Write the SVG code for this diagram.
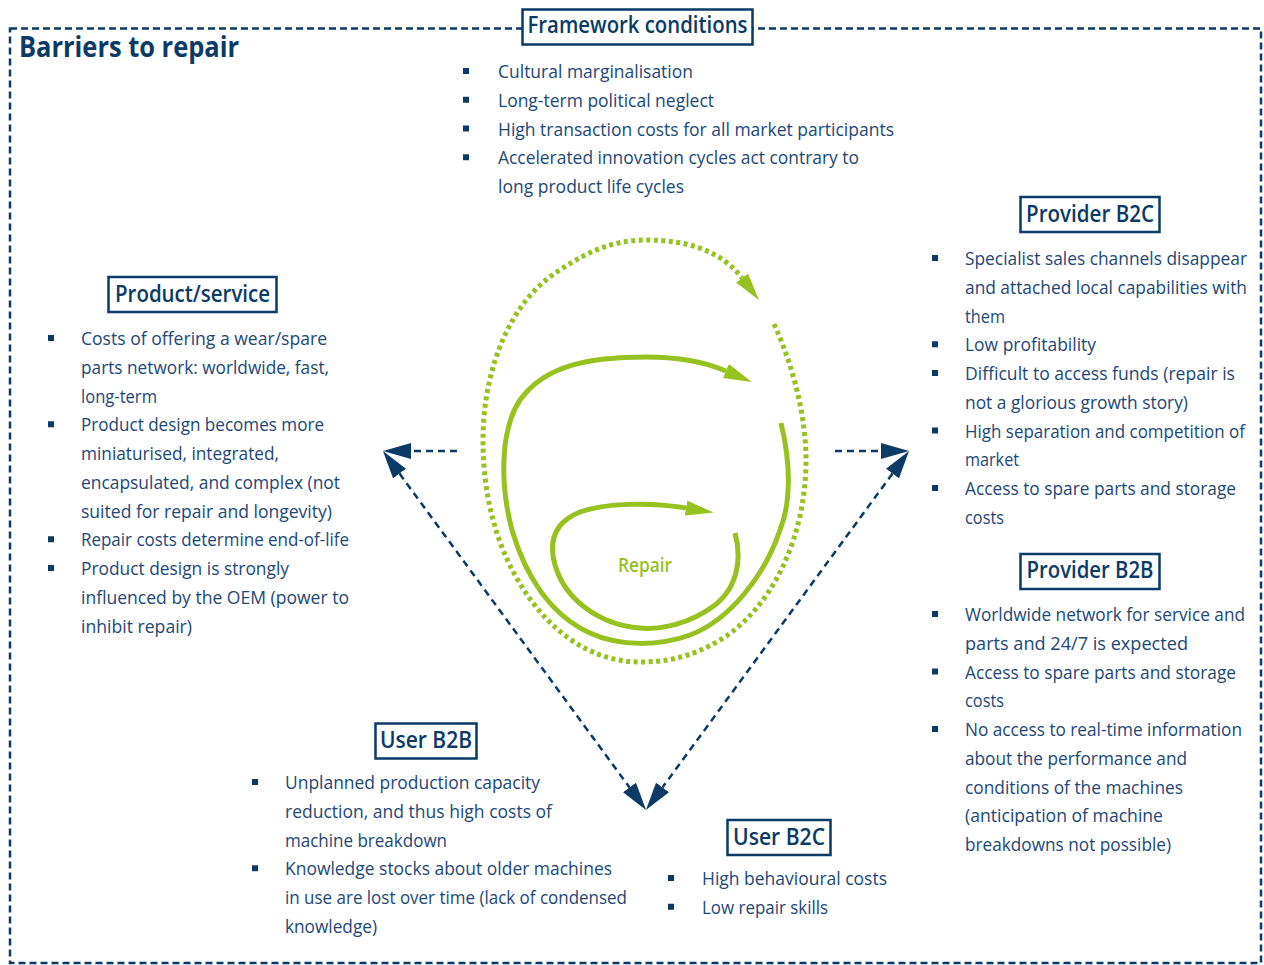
<svg xmlns="http://www.w3.org/2000/svg" width="1264" height="965" viewBox="0 0 1264 965">
<style>
.b{font-family:"Open Sans","Noto Sans","Liberation Sans",sans-serif;font-size:18.5px;fill:#1d4776}
.t{font-family:"Open Sans","Noto Sans","Liberation Sans",sans-serif;font-size:23px;font-weight:600;fill:#0b3a66;text-anchor:middle}
.box{fill:#fff;stroke:#0b3a66;stroke-width:2.5}
.bl{fill:#0b3a66}
.con{fill:none;stroke:#0b3a66;stroke-width:2.5;stroke-dasharray:7 5}
.g{fill:none;stroke:#97c11f;stroke-width:5}
.gd{fill:none;stroke:#97c11f;stroke-width:5;stroke-dasharray:4 3.5}
</style>
<defs>
<marker id="ab" markerUnits="userSpaceOnUse" viewBox="0 0 28 16" markerWidth="28" markerHeight="16" refX="0" refY="8" orient="auto-start-reverse"><path d="M0,0 L28,8 L0,16 z" fill="#0b3a66"/></marker>
<marker id="ga" markerUnits="userSpaceOnUse" viewBox="0 0 28 15" markerWidth="28" markerHeight="15" refX="0" refY="7.5" orient="auto"><path d="M0,0 L28,7.5 L0,15 z" fill="#97c11f"/></marker>
</defs>
<rect x="10" y="28.5" width="1251" height="934.5" fill="none" stroke="#0b3a66" stroke-width="2.5" stroke-dasharray="7 4"/>
<text x="19" y="57" textLength="220" lengthAdjust="spacingAndGlyphs" style="font-family:'Open Sans','Noto Sans',sans-serif;font-size:28px;font-weight:700;fill:#0b3a66">Barriers to repair</text>

<g id="cycle">
<path class="gd" d="M774,324 C795,370 806,420 806,460 C806,540 770,610 720,640 C690,658 665,662 640,662 C590,662 545,630 515,575 C490,530 483,480 483,440 C483,370 510,300 560,270 C590,250 615,240 646,240 C690,240 722,252 742,278" marker-end="url(#ga)"/>
<path class="g" d="M781,423 C790,460 792,500 780,530 C765,575 730,620 690,635 C660,646 620,647 590,633 C550,615 525,575 512,530 C500,485 500,430 520,400 C545,365 590,357 646,357 C680,357 705,362 726,371" marker-end="url(#ga)"/>
<path class="g" d="M735,533 C741,555 740,585 715,605 C690,624 660,630 640,628 C600,625 565,600 555,565 C548,540 555,522 580,512 C605,503 650,502 686,508" marker-end="url(#ga)"/>
<text x="645" y="572" textLength="54" lengthAdjust="spacingAndGlyphs" style="font-family:'Open Sans','Noto Sans',sans-serif;font-size:19px;font-weight:600;fill:#97c11f;text-anchor:middle">Repair</text>
</g>

<g id="connectors">
<path class="con" d="M457,451 L411,451" marker-end="url(#ab)"/>
<path class="con" d="M835,451 L881,451" marker-end="url(#ab)"/>
<path class="con" d="M399.5,473.6 L629.5,787.4" marker-start="url(#ab)" marker-end="url(#ab)"/>
<path class="con" d="M892.5,473.6 L662.5,787.4" marker-start="url(#ab)" marker-end="url(#ab)"/>
</g>

<g id="framework">
<rect class="box" x="522.5" y="9.5" width="230" height="35"/>
<text class="t" x="637.5" y="33" textLength="220" lengthAdjust="spacingAndGlyphs">Framework conditions</text>
<rect class="bl" x="463" y="68" width="6" height="6"/>
<rect class="bl" x="463" y="96.75" width="6" height="6"/>
<rect class="bl" x="463" y="125.5" width="6" height="6"/>
<rect class="bl" x="463" y="154.25" width="6" height="6"/>
<text class="b" x="498" y="78" textLength="195" lengthAdjust="spacingAndGlyphs">Cultural marginalisation</text>
<text class="b" x="498" y="106.75" textLength="216" lengthAdjust="spacingAndGlyphs">Long-term political neglect</text>
<text class="b" x="498" y="135.5" textLength="396" lengthAdjust="spacingAndGlyphs">High transaction costs for all market participants</text>
<text class="b" x="498" y="164.25" textLength="361" lengthAdjust="spacingAndGlyphs">Accelerated innovation cycles act contrary to</text>
<text class="b" x="498" y="193" textLength="186" lengthAdjust="spacingAndGlyphs">long product life cycles</text>
</g>

<g id="product-service">
<rect class="box" x="108.5" y="277" width="168" height="35"/>
<text class="t" x="192.5" y="302" textLength="155" lengthAdjust="spacingAndGlyphs">Product/service</text>
<rect class="bl" x="48" y="335" width="6" height="6"/>
<rect class="bl" x="48" y="421.25" width="6" height="6"/>
<rect class="bl" x="48" y="536.25" width="6" height="6"/>
<rect class="bl" x="48" y="565" width="6" height="6"/>
<text class="b" x="81" y="345" textLength="246" lengthAdjust="spacingAndGlyphs">Costs of offering a wear/spare</text>
<text class="b" x="81" y="373.75" textLength="248" lengthAdjust="spacingAndGlyphs">parts network: worldwide, fast,</text>
<text class="b" x="81" y="402.5" textLength="76" lengthAdjust="spacingAndGlyphs">long-term</text>
<text class="b" x="81" y="431.25" textLength="243" lengthAdjust="spacingAndGlyphs">Product design becomes more</text>
<text class="b" x="81" y="460" textLength="198" lengthAdjust="spacingAndGlyphs">miniaturised, integrated,</text>
<text class="b" x="81" y="488.75" textLength="259" lengthAdjust="spacingAndGlyphs">encapsulated, and complex (not</text>
<text class="b" x="81" y="517.5" textLength="251" lengthAdjust="spacingAndGlyphs">suited for repair and longevity)</text>
<text class="b" x="81" y="546.25" textLength="268" lengthAdjust="spacingAndGlyphs">Repair costs determine end-of-life</text>
<text class="b" x="81" y="575" textLength="208" lengthAdjust="spacingAndGlyphs">Product design is strongly</text>
<text class="b" x="81" y="603.75" textLength="268" lengthAdjust="spacingAndGlyphs">influenced by the OEM (power to</text>
<text class="b" x="81" y="632.5" textLength="111" lengthAdjust="spacingAndGlyphs">inhibit repair)</text>
</g>

<g id="provider-b2c">
<rect class="box" x="1020.5" y="197" width="139" height="35"/>
<text class="t" x="1090" y="222" textLength="128" lengthAdjust="spacingAndGlyphs">Provider B2C</text>
<rect class="bl" x="932" y="255" width="6" height="6"/>
<rect class="bl" x="932" y="341.25" width="6" height="6"/>
<rect class="bl" x="932" y="370" width="6" height="6"/>
<rect class="bl" x="932" y="427.5" width="6" height="6"/>
<rect class="bl" x="932" y="485" width="6" height="6"/>
<text class="b" x="965" y="265" textLength="282" lengthAdjust="spacingAndGlyphs">Specialist sales channels disappear</text>
<text class="b" x="965" y="293.75" textLength="282" lengthAdjust="spacingAndGlyphs">and attached local capabilities with</text>
<text class="b" x="965" y="322.5" textLength="40" lengthAdjust="spacingAndGlyphs">them</text>
<text class="b" x="965" y="351.25" textLength="131" lengthAdjust="spacingAndGlyphs">Low profitability</text>
<text class="b" x="965" y="380" textLength="270" lengthAdjust="spacingAndGlyphs">Difficult to access funds (repair is</text>
<text class="b" x="965" y="408.75" textLength="223" lengthAdjust="spacingAndGlyphs">not a glorious growth story)</text>
<text class="b" x="965" y="437.5" textLength="280" lengthAdjust="spacingAndGlyphs" style="font-size:17.5px">High separation and competition of</text>
<text class="b" x="965" y="466.25" textLength="54" lengthAdjust="spacingAndGlyphs">market</text>
<text class="b" x="965" y="495" textLength="271" lengthAdjust="spacingAndGlyphs">Access to spare parts and storage</text>
<text class="b" x="965" y="523.75" textLength="39" lengthAdjust="spacingAndGlyphs">costs</text>
</g>

<g id="provider-b2b">
<rect class="box" x="1020.5" y="554" width="139" height="35"/>
<text class="t" x="1090" y="578" textLength="127" lengthAdjust="spacingAndGlyphs">Provider B2B</text>
<rect class="bl" x="932" y="611" width="6" height="6"/>
<rect class="bl" x="932" y="668.5" width="6" height="6"/>
<rect class="bl" x="932" y="726" width="6" height="6"/>
<text class="b" x="965" y="621" textLength="280" lengthAdjust="spacingAndGlyphs">Worldwide network for service and</text>
<text class="b" x="965" y="649.75" textLength="223" lengthAdjust="spacingAndGlyphs">parts and 24/7 is expected</text>
<text class="b" x="965" y="678.5" textLength="271" lengthAdjust="spacingAndGlyphs">Access to spare parts and storage</text>
<text class="b" x="965" y="707.25" textLength="39" lengthAdjust="spacingAndGlyphs">costs</text>
<text class="b" x="965" y="736" textLength="277" lengthAdjust="spacingAndGlyphs">No access to real-time information</text>
<text class="b" x="965" y="764.75" textLength="222" lengthAdjust="spacingAndGlyphs">about the performance and</text>
<text class="b" x="965" y="793.5" textLength="218" lengthAdjust="spacingAndGlyphs">conditions of the machines</text>
<text class="b" x="965" y="822.25" textLength="198" lengthAdjust="spacingAndGlyphs">(anticipation of machine</text>
<text class="b" x="965" y="851" textLength="206" lengthAdjust="spacingAndGlyphs">breakdowns not possible)</text>
</g>

<g id="user-b2b">
<rect class="box" x="375.5" y="723.5" width="101" height="35"/>
<text class="t" x="426" y="748" textLength="92" lengthAdjust="spacingAndGlyphs">User B2B</text>
<rect class="bl" x="252" y="779" width="6" height="6"/>
<rect class="bl" x="252" y="865.25" width="6" height="6"/>
<text class="b" x="285" y="789" textLength="255" lengthAdjust="spacingAndGlyphs">Unplanned production capacity</text>
<text class="b" x="285" y="817.75" textLength="267" lengthAdjust="spacingAndGlyphs">reduction, and thus high costs of</text>
<text class="b" x="285" y="846.5" textLength="162" lengthAdjust="spacingAndGlyphs">machine breakdown</text>
<text class="b" x="285" y="875.25" textLength="327" lengthAdjust="spacingAndGlyphs">Knowledge stocks about older machines</text>
<text class="b" x="285" y="904" textLength="342" lengthAdjust="spacingAndGlyphs">in use are lost over time (lack of condensed</text>
<text class="b" x="285" y="932.75" textLength="92" lengthAdjust="spacingAndGlyphs">knowledge)</text>
</g>

<g id="user-b2c">
<rect class="box" x="727.5" y="820" width="103" height="35"/>
<text class="t" x="779" y="845" textLength="92" lengthAdjust="spacingAndGlyphs">User B2C</text>
<rect class="bl" x="668" y="875" width="6" height="6"/>
<rect class="bl" x="668" y="903.75" width="6" height="6"/>
<text class="b" x="702" y="885" textLength="185" lengthAdjust="spacingAndGlyphs">High behavioural costs</text>
<text class="b" x="702" y="913.75" textLength="126" lengthAdjust="spacingAndGlyphs">Low repair skills</text>
</g>
</svg>
